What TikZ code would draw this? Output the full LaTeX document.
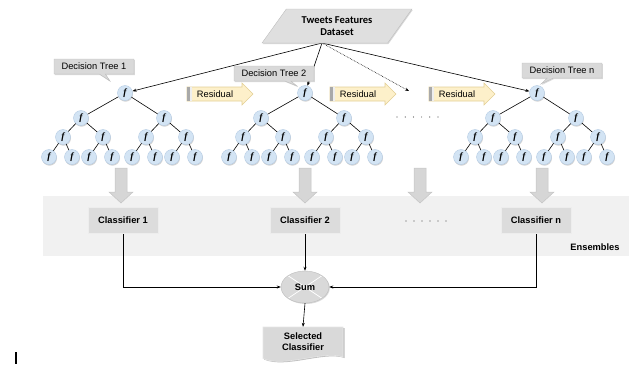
\documentclass[tikz,border=0pt]{standalone}
\usepackage{fontspec}
\setmainfont{Liberation Sans}
\newfontfamily\dsfont{Carlito}
\newfontfamily\fserif{Liberation Serif}
\usetikzlibrary{shapes.geometric,shapes.callouts,shadows,backgrounds,arrows.meta}
\definecolor{nodeblue}{HTML}{D3E4F4}
\definecolor{nodeedge}{HTML}{B4CBE3}
\definecolor{calloutgray}{HTML}{D9D9D9}
\definecolor{calloutedge}{HTML}{BDBDBD}
\definecolor{resfill}{HTML}{FDF0CA}
\definecolor{resedge}{HTML}{E3CF95}
\definecolor{bargray}{HTML}{A9A9A9}
\definecolor{bigarr}{HTML}{D6D6D6}
\definecolor{bigarredge}{HTML}{C4C4C4}
\definecolor{boxgray}{HTML}{DCDCDC}
\definecolor{bandgray}{HTML}{F1F1F1}
\begin{document}
\begin{tikzpicture}[x=1pt,y=-1pt,
  fnode/.style={circle, draw=nodeedge, fill=nodeblue, minimum size=15pt, inner sep=0pt,
    font=\fserif\bfseries\itshape\fontsize{9.5}{9.5}\selectfont,
    drop shadow={shadow xshift=0.5pt, shadow yshift=-1.2pt, opacity=0.35}},
  tedge/.style={draw=black, line width=0.6pt},
  dtlabel/.style={rectangle callout, fill=calloutgray, draw=calloutedge, minimum width=80pt,
    minimum height=15pt, inner sep=1pt, callout pointer width=6pt,
    font=\fontsize{9.3}{10}\selectfont,
    drop shadow={shadow xshift=0.8pt, shadow yshift=-1pt, opacity=0.3}},
  clf/.style={rectangle, fill=boxgray, draw=white!93!black, line width=0.8pt,
    minimum width=70pt, minimum height=26pt, font=\bfseries\fontsize{9.3}{10}\selectfont,
    drop shadow={shadow xshift=0.8pt, shadow yshift=-1pt, opacity=0.3}},
  conn/.style={draw=black, line width=0.6pt, -{Stealth[length=4pt,width=3pt]}},
  resarrow/.style={fill=resfill, draw=resedge, line width=0.6pt},
  bigarrow/.style={fill=bigarr, draw=bigarredge, line width=0.5pt},
  lbl/.style={font=\fontsize{9.3}{10}\selectfont, inner sep=0pt},
  boldlbl/.style={font=\bfseries\fontsize{9.3}{11}\selectfont, inner sep=0pt, align=center}
]
\useasboundingbox (0,0) rectangle (629,367);

% Ensembles band
\begin{scope}[on background layer]
  \fill[bandgray] (43,196) rectangle (629,256);
\end{scope}

% Dataset
\node[trapezium, trapezium left angle=54, trapezium right angle=126, trapezium stretches=true,
  minimum width=150pt, minimum height=34pt, fill=calloutgray!85!white, draw=calloutedge,
  font=\dsfont\bfseries\fontsize{10.5}{12}\selectfont, align=center,
  drop shadow={shadow xshift=0.8pt, shadow yshift=-1pt, opacity=0.3}]
  (ds) at (337,26) {Tweets Features\\Dataset};
\coordinate (apex) at (322,43);

% Trees
\foreach \t/\rx in {1/125,2/305,3/537}{
  \node[fnode] (t\t-0) at (\rx,93) {f};
  \foreach \i/\dx in {1/-44,2/39}{
    \node[fnode] (t\t-\i) at (\rx+\dx,118) {f};
    \draw[tedge] (t\t-0) -- (t\t-\i);
    \foreach \j/\ddx in {1/-18,2/22}{
      \node[fnode] (t\t-\i\j) at (\rx+\dx+\ddx,137) {f};
      \draw[tedge] (t\t-\i) -- (t\t-\i\j);
      \foreach \k/\dddx in {1/-14,2/9}{
        \node[fnode] (t\t-\i\j\k) at (\rx+\dx+\ddx+\dddx,157) {f};
        \draw[tedge] (t\t-\i\j) -- (t\t-\i\j\k);
      }
    }
  }
}

% Decision tree labels
\node[dtlabel, callout absolute pointer={(110,81)}] (dt1) at (94,66.5) {Decision Tree 1};
\node[dtlabel, callout absolute pointer={(297,86)}] (dt2) at (274,73.5) {Decision Tree 2};
\node[dtlabel, callout absolute pointer={(541,84)}] (dtn) at (562,70.5) {Decision Tree n};

% Connectors from dataset
\coordinate (dotend) at (409,91);
\begin{scope}[on background layer]
  \draw[conn] (apex) -- (t1-0);
  \draw[conn] (apex) -- (t2-0);
  \draw[conn] (apex) -- (t3-0);
  \draw[conn, densely dotted] (apex) -- (dotend);
\end{scope}

% Residual arrows
\foreach \n/\rx in {1/187,2/330,3/429}{
  \coordinate (r\n) at (\rx,94);
  \draw[resarrow] (r\n) +(0,-7) -- +(55,-7) -- +(55,-11) -- +(66,0) -- +(55,11) -- +(55,7) -- +(0,7) -- cycle;
  \fill[bargray] (r\n) +(0.3,-6.7) rectangle +(3,6.7);
  \fill[white!80!bargray] (r\n) +(3,-6.7) rectangle +(4.5,6.7);
  \node[lbl] (rl\n) at ([xshift=28pt]r\n) {Residual};
}

% dots
\foreach \d in {0,...,5}{
  \fill[black!70] (397+\d*8.2,117) circle (0.6);
  \fill[black!70] (406+\d*8,221) circle (0.6);
}

% big down arrows
\foreach \n/\ax in {1/121,2/305,3/420,4/542}{
  \coordinate (a\n) at (\ax,168);
  \draw[bigarrow] (a\n) +(-6,0) -- +(6,0) -- +(6,24) -- +(12,24) -- +(0,35) -- +(-12,24) -- +(-6,24) -- cycle;
}

% Classifiers
\node[clf] (c1) at (123,220) {Classifier 1};
\node[clf] (c2) at (305,220) {Classifier 2};
\node[clf] (c3) at (536,220) {Classifier n};
\node[boldlbl] (ens) at (595,247) {Ensembles};

% Sum
\node[ellipse, minimum width=48pt, minimum height=32pt, fill=calloutgray, draw=calloutedge,
  inner sep=0pt, font=\bfseries\fontsize{9.3}{10}\selectfont,
  path picture={\draw[white, line width=0.7pt]
    (path picture bounding box.north west) -- (path picture bounding box.south east)
    (path picture bounding box.north east) -- (path picture bounding box.south west);},
  drop shadow={shadow xshift=0.8pt, shadow yshift=-1pt, opacity=0.3}]
  (sum) at (305,287) {Sum};

% Selected classifier (document shape)
\fill[black, opacity=0.25] (264,328) -- (344.5,328) -- (344.5,358)
  .. controls (324,351) and (286,369) .. (264,359.5) -- cycle;
\filldraw[fill=calloutgray, draw=white!90!black, line width=0.6pt] (263,327) -- (343,327) -- (343,357)
  .. controls (323,350) and (285,368) .. (263,358.5) -- cycle;
\node[boldlbl, minimum width=80pt, minimum height=30pt] (sel) at (303,342) {Selected\\Classifier};

% Connectors to sum
\begin{scope}[on background layer]
  \draw[conn] (c1.south) |- (sum.west);
  \draw[conn] (c2.south) -- (sum.north);
  \draw[conn] (c3.south) |- (sum.east);
\end{scope}
\draw[conn] (sum.south) -- (sel.north);

% small tick mark
\draw[black, line width=1.2pt] (16,352) -- (16,364);
\end{tikzpicture}
\end{document}
